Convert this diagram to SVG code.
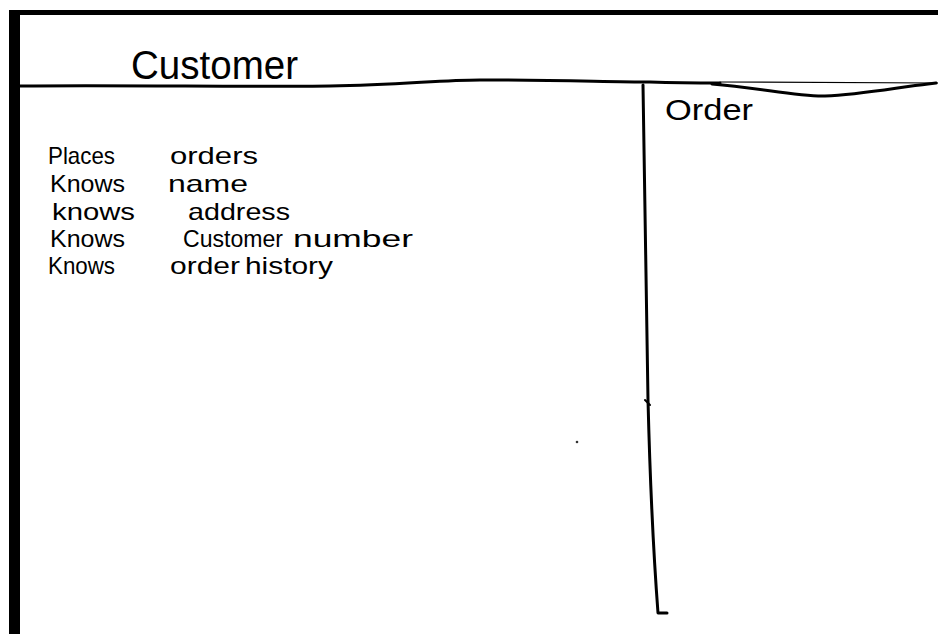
<svg xmlns="http://www.w3.org/2000/svg" width="938" height="634" viewBox="0 0 938 634">
  <style>
    .ink { fill: none; stroke: #000; stroke-linecap: round; stroke-linejoin: round; }
    .hand { font-family: "Liberation Sans", "DejaVu Sans", sans-serif; fill: #000; }
    .resp { font-size: 24px; }
  </style>
  <rect width="938" height="634" fill="#fff"/>

  <!-- card frame -->
  <g id="frame">
    <rect x="9" y="10" width="11" height="624" fill="#000"/>
    <rect x="9" y="10" width="929" height="5" fill="#000"/>
  </g>

  <!-- dividing strokes -->
  <g id="connectors">
    <path class="ink" stroke-width="3" d="M20,86 C120,85 250,87 330,86 C400,85 440,80 480,80 C560,80 610,82 650,82 C680,83 700,83 720,83"/>
    <path class="ink" stroke-width="1.2" d="M720,82 C800,82 880,83 938,83"/>
    <path class="ink" stroke-width="3" d="M712,84 C760,88 800,97 825,96 C860,95 900,87 928,84 L936,83"/>
    <path class="ink" stroke-width="3" d="M643,85 C645,200 647,300 648,400 C650,480 654,560 658,613 L667,613"/>
    <path class="ink" stroke-width="2" d="M645,400 L650,405"/>
    <circle cx="577" cy="442" r="1.3" fill="#333"/>
  </g>

  <!-- class card: Customer -->
  <g id="customer">
    <text class="hand" x="131" y="79" font-size="40" textLength="167" lengthAdjust="spacingAndGlyphs">Customer</text>
    <g class="resp">
      <text class="hand" x="48" y="164" textLength="67" lengthAdjust="spacingAndGlyphs">Places</text>
      <text class="hand" x="170" y="164" textLength="88" lengthAdjust="spacingAndGlyphs">orders</text>
      <text class="hand" x="50" y="192" textLength="75" lengthAdjust="spacingAndGlyphs">Knows</text>
      <text class="hand" x="168" y="192" textLength="80" lengthAdjust="spacingAndGlyphs">name</text>
      <text class="hand" x="52" y="220" textLength="83" lengthAdjust="spacingAndGlyphs">knows</text>
      <text class="hand" x="188" y="220" textLength="102" lengthAdjust="spacingAndGlyphs">address</text>
      <text class="hand" x="50" y="247" textLength="75" lengthAdjust="spacingAndGlyphs">Knows</text>
      <text class="hand" x="183" y="247" textLength="100" lengthAdjust="spacingAndGlyphs">Customer</text>
      <text class="hand" x="293" y="247" textLength="120" lengthAdjust="spacingAndGlyphs">number</text>
      <text class="hand" x="48" y="274" textLength="67" lengthAdjust="spacingAndGlyphs">Knows</text>
      <text class="hand" x="170" y="274" textLength="70" lengthAdjust="spacingAndGlyphs">order</text>
      <text class="hand" x="245" y="274" textLength="88" lengthAdjust="spacingAndGlyphs">history</text>
    </g>
  </g>

  <!-- collaborator column: Order -->
  <g id="order">
    <text class="hand" x="665" y="120" font-size="30" textLength="88" lengthAdjust="spacingAndGlyphs">Order</text>
  </g>
</svg>
